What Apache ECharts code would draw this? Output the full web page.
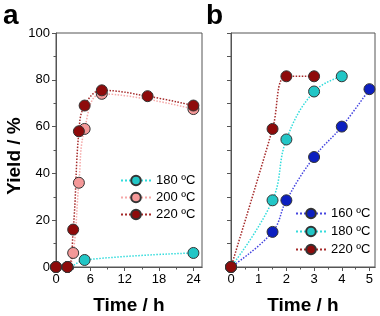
<!DOCTYPE html>
<html lang="en">
<head>
<meta charset="UTF-8">
<title>Yield vs time</title>
<script src="https://cdn.jsdelivr.net/npm/echarts@6/dist/echarts.min.js"></script>
<style>
  html, body { margin: 0; padding: 0; background: #fff; }
  #chart { width: 380px; height: 316px; }
</style>
</head>
<body>
<div id="chart"></div>
<script>
// panel a: yield vs time at three temperatures
var timeA180 = [0, 2, 5, 24];
var yieldA180 = [0, 0, 3, 6];
var timeA200 = [0, 2, 3, 4, 5, 8, 24];
var yieldA200 = [0, 0, 6, 36, 59, 74, 67.5];
var timeA220 = [0, 2, 3, 4, 5, 8, 16, 24];
var yieldA220 = [0, 0, 16, 58, 69, 75.5, 73, 69];

// panel b
var timeB160 = [0, 1.5, 2, 3, 4, 5];
var yieldB160 = [0, 15, 28.5, 47, 60, 76];
var timeB180 = [0, 1.5, 2, 3, 4];
var yieldB180 = [0, 28.5, 54.5, 75, 81.5];
var timeB220 = [0, 1.5, 2, 3];
var yieldB220 = [0, 59, 81.5, 81.5];

// tick positions
var majorA = [0, 6, 12, 18, 24];
var minorA = [3, 9, 15, 21];
var majorB = [0, 1, 2, 3, 4, 5];
var minorB = [0.5, 1.5, 2.5, 3.5, 4.5];

var font = 'Arial, "Liberation Sans", sans-serif';
var frame = '#555';

function zip(xs, ys) {
    return xs.map(function (x, i) { return [x, ys[i]]; });
}

function xAxisPair(grid, max, major, minor) {
    var base = {
        gridIndex: grid, type: 'value', position: 'bottom', min: 0, max: max,
        axisLine: { show: true, onZero: false, lineStyle: { color: frame, width: 1 } },
        splitLine: { show: false }
    };
    var a = Object.assign({}, base, {
        name: 'Time / h', nameLocation: 'middle', nameGap: 29,
        nameTextStyle: { fontFamily: font, fontSize: 19, fontWeight: 'bold', color: '#000' },
        axisTick: { show: true, inside: false, length: 4, customValues: major, lineStyle: { color: frame } },
        axisLabel: { show: true, margin: 6, customValues: major, fontFamily: font, fontSize: 13, color: '#000' }
    });
    var b = Object.assign({}, base, {
        axisTick: { show: true, inside: false, length: 2.5, customValues: minor, lineStyle: { color: frame } },
        axisLabel: { show: false }
    });
    return [a, b];
}

function yAxis(grid, labels) {
    return {
        gridIndex: grid, type: 'value', min: 0, max: 100, interval: 20,
        name: labels ? 'Yield / %' : '', nameLocation: 'middle', nameGap: 24,
        nameTextStyle: { fontFamily: font, fontSize: 19, fontWeight: 'bold', color: '#000', padding: [0, 0, 0, -12] },
        axisLine: { show: true, onZero: false, lineStyle: { color: frame, width: 1 } },
        axisTick: { show: true, inside: false, length: 4, lineStyle: { color: frame } },
        minorTick: { show: true, splitNumber: 2, length: labels ? 2.5 : 4, lineStyle: { color: frame } },
        axisLabel: { show: labels, margin: 6, fontFamily: font, fontSize: 13, color: '#000' },
        splitLine: { show: false }
    };
}

function line(name, xi, yi, data, fill, stroke) {
    return {
        name: name, type: 'line', xAxisIndex: xi, yAxisIndex: yi, data: data,
        smooth: 0.4, clip: false,
        symbol: 'circle', symbolSize: 11,
        itemStyle: { color: fill, borderColor: '#333', borderWidth: 1 },
        lineStyle: { color: stroke, width: 1.5, type: 'dotted' },
        emphasis: { disabled: true }
    };
}

var cyan = '#22c6c6', cyanLine = '#33dcdc';
var pink = '#f49898', pinkLine = '#f5a8a8';
var dred = '#8e0b0b', dredLine = '#a52a2a';
var blue = '#0c1fc0', blueLine = '#4646e0';

var chart = echarts.init(document.getElementById('chart'));
var xa = xAxisPair(0, 25.5, majorA, minorA);
var xb = xAxisPair(1, 5.2, majorB, minorB);

chart.setOption({
    animation: false,
    graphic: [
        { type: 'text', left: 3, top: 2, style: { text: 'a', font: 'bold 28px ' + font, fill: '#000' } },
        { type: 'text', left: 206, top: 2, style: { text: 'b', font: 'bold 28px ' + font, fill: '#000' } }
    ],
    grid: [
        { left: 56, top: 33, width: 146, height: 234, show: true, borderColor: frame, borderWidth: 1,
          containLabel: false, outerBoundsMode: 'none' },
        { left: 231, top: 33, width: 144, height: 234, show: true, borderColor: frame, borderWidth: 1,
          containLabel: false, outerBoundsMode: 'none' }
    ],
    xAxis: [xa[0], xa[1], xb[0], xb[1]],
    yAxis: [yAxis(0, true), yAxis(1, false)],
    legend: [
        {
            data: ['180 ºC', '200 ºC', '220 ºC'], orient: 'vertical',
            left: 120, top: 174, padding: 0, itemGap: 4, itemWidth: 30, itemHeight: 12,
            textStyle: { fontFamily: font, fontSize: 13, color: '#000' }
        },
        {
            data: ['160 ºC', '180 ºC ', '220 ºC '], orient: 'vertical',
            left: 295, top: 207, padding: 0, itemGap: 5, itemWidth: 30, itemHeight: 12,
            formatter: function (n) { return n.trim(); },
            textStyle: { fontFamily: font, fontSize: 13, color: '#000' }
        }
    ],
    series: [
        line('180 ºC', 0, 0, zip(timeA180, yieldA180), cyan, cyanLine),
        line('200 ºC', 0, 0, zip(timeA200, yieldA200), pink, pinkLine),
        line('220 ºC', 0, 0, zip(timeA220, yieldA220), dred, dredLine),
        line('160 ºC', 2, 1, zip(timeB160, yieldB160), blue, blueLine),
        line('180 ºC ', 2, 1, zip(timeB180, yieldB180), cyan, cyanLine),
        line('220 ºC ', 2, 1, zip(timeB220, yieldB220), dred, dredLine)
    ]
});
</script>
</body>
</html>
